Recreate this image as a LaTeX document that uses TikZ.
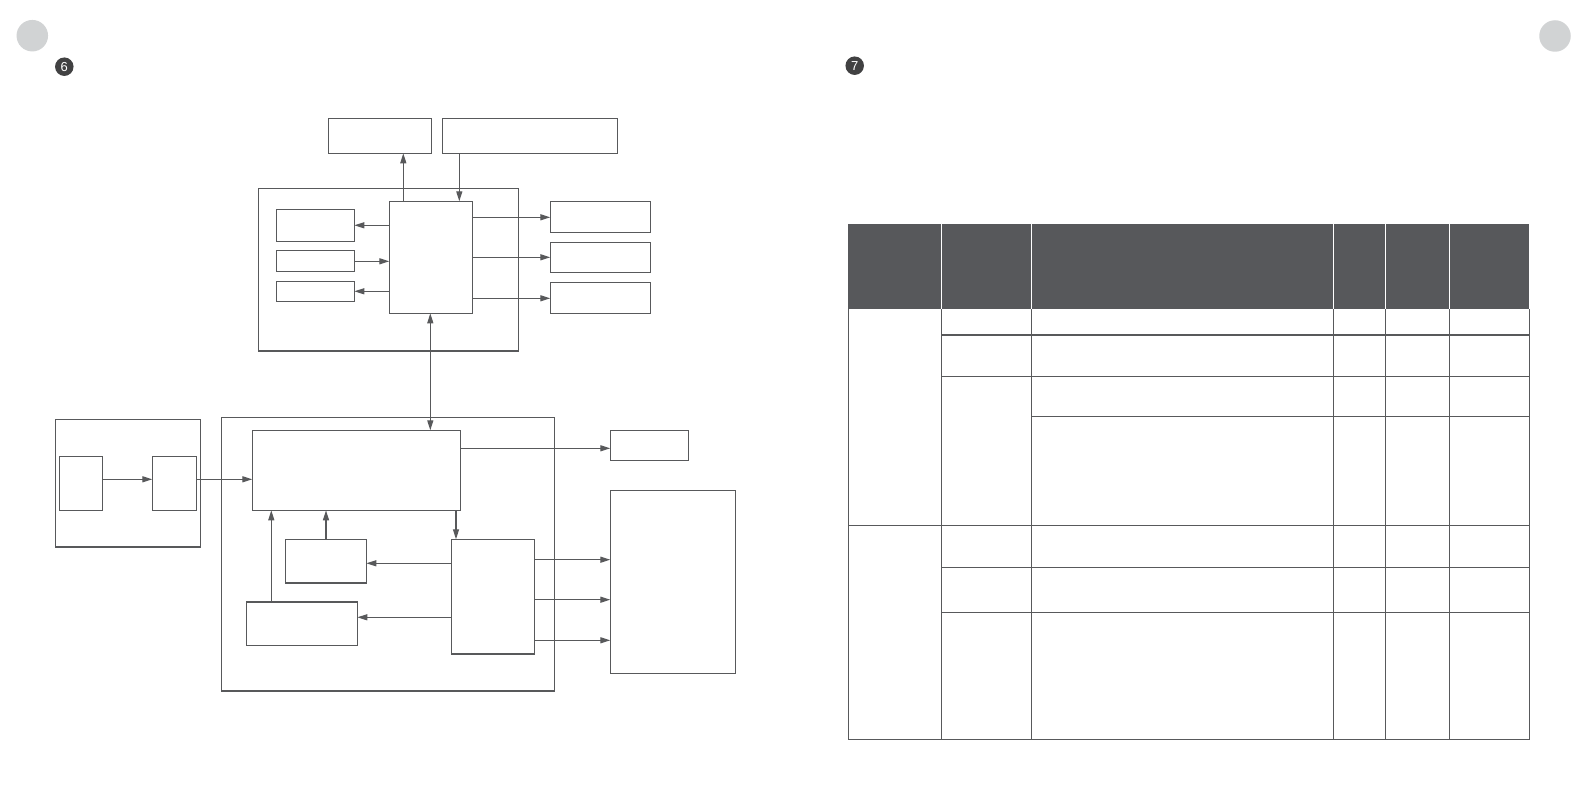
\documentclass[tikz,border=0pt]{standalone}
\usepackage{fontspec}
\setmainfont{Liberation Sans}
\usetikzlibrary{arrows.meta}
\definecolor{ln}{HTML}{58595B}
\definecolor{hd}{HTML}{57585B}
\definecolor{dot}{HTML}{D1D3D4}
\definecolor{num}{HTML}{414142}
\tikzset{
  box/.style={draw=ln, line width=1.3pt, fill=none, inner sep=0pt, outer sep=0pt, anchor=north west},
  conn/.style={draw=ln, line width=1.3pt, -{Triangle[length=10pt,width=6pt]}},
  biconn/.style={draw=ln, line width=1.3pt, {Triangle[length=10pt,width=6pt]}-{Triangle[length=10pt,width=6pt]}},
  tline/.style={draw=ln, line width=1.5pt},
  bigdot/.style={circle, fill=dot, minimum size=31.5pt, inner sep=0pt},
  numdot/.style={circle, fill=num, minimum size=18.5pt, inner sep=0pt, text=white, font=\fontsize{13}{13}\selectfont}
}
\newcommand{\bx}[5]{\node[box, minimum width=#4pt, minimum height=#5pt] (#1) at (#2,#3) {};}
\begin{document}
\begin{tikzpicture}[x=1pt,y=-1pt]
\useasboundingbox[fill=white] (0,0) rectangle (1587,794);
% page decorations
\node[bigdot] (dotl) at (32.3,35.7) {};
\node[bigdot] (dotr) at (1555,36) {};
\node[numdot] (n6) at (64.3,66.7) {6};
\node[numdot] (n7) at (854.7,65.7) {7};
% diagram boxes
\bx{top1}{328.3}{118.3}{103.4}{35}
\bx{top2}{442.3}{118.3}{175.4}{35}
\bx{A}{258.3}{188.3}{260}{162.7}
\bx{mcu}{389.3}{201.3}{83}{112}
\bx{L1}{276.3}{209.3}{78}{32}
\bx{L2}{276.3}{250.3}{78}{21}
\bx{L3}{276.3}{281.3}{78}{20}
\bx{R1}{550.3}{201.3}{100.2}{31}
\bx{R2}{550.3}{242.3}{100.2}{30}
\bx{R3}{550.3}{282.3}{100.2}{31}
\bx{LO}{55.3}{419.3}{145}{127.7}
\bx{SL1}{59.3}{456.3}{43}{54}
\bx{SL2}{152.3}{456.3}{44}{54}
\bx{B}{221.3}{417.3}{333}{273.7}
\bx{C}{252.3}{430.3}{208}{80}
\bx{D}{451.3}{539.3}{83}{114.7}
\bx{E}{285.3}{539.3}{81}{43.7}
\bx{F}{246.3}{602}{111}{43.3}
\bx{S}{610.3}{430.3}{78}{30}
\bx{T}{610.3}{490.3}{125}{183}
% connectors
\draw[conn] (mcu.north -| 403.3,0) -- (top1.south -| 403.3,0);
\draw[conn] (top2.south -| 459.3,0) -- (mcu.north -| 459.3,0);
\draw[conn] (mcu.west |- 0,225.3) -- (L1.east |- 0,225.3);
\draw[conn] (L2.east |- 0,261.3) -- (mcu.west |- 0,261.3);
\draw[conn] (mcu.west |- 0,291.3) -- (L3.east |- 0,291.3);
\draw[conn] (mcu.east |- 0,217.3) -- (R1.west |- 0,217.3);
\draw[conn] (mcu.east |- 0,257.3) -- (R2.west |- 0,257.3);
\draw[conn] (mcu.east |- 0,298.3) -- (R3.west |- 0,298.3);
\draw[biconn] (mcu.south -| 430.3,0) -- (C.north -| 430.3,0);
\draw[conn] (SL1.east |- 0,479.3) -- (SL2.west |- 0,479.3);
\draw[conn] (SL2.east |- 0,479.3) -- (C.west |- 0,479.3);
\draw[conn] (C.east |- 0,448.3) -- (S.west |- 0,448.3);
\draw[conn] (C.south -| 456,0) -- (D.north -| 456,0);
\draw[conn] (E.north -| 326,0) -- (C.south -| 326,0);
\draw[conn] (F.north -| 271.3,0) -- (C.south -| 271.3,0);
\draw[conn] (D.west |- 0,563.3) -- (E.east |- 0,563.3);
\draw[conn] (D.west |- 0,617.3) -- (F.east |- 0,617.3);
\draw[conn] (D.east |- 0,559.7) -- (T.west |- 0,559.7);
\draw[conn] (D.east |- 0,599.7) -- (T.west |- 0,599.7);
\draw[conn] (D.east |- 0,640.3) -- (T.west |- 0,640.3);
% table header
\fill[hd] (848.3,224) rectangle (1529.3,309.3);
\foreach \cx in {941.3,1031.3,1333.3,1385.7,1449.3}
  \draw[white, line width=1.2pt] (\cx,224) -- (\cx,309.3);
% table body
\draw[tline] (848.3,309.3) -- (848.3,739.3) -- (1529.3,739.3) -- (1529.3,309.3);
\foreach \cx in {941.3,1031.3,1333.3,1385.7,1449.3}
  \draw[tline] (\cx,309.3) -- (\cx,739.3);
\foreach \ry in {335,376.3,567.3,612.3}
  \draw[tline] (941.3,\ry) -- (1529.3,\ry);
\draw[tline] (1031.3,416.3) -- (1529.3,416.3);
\draw[tline] (848.3,525.3) -- (1529.3,525.3);
\end{tikzpicture}
\end{document}
